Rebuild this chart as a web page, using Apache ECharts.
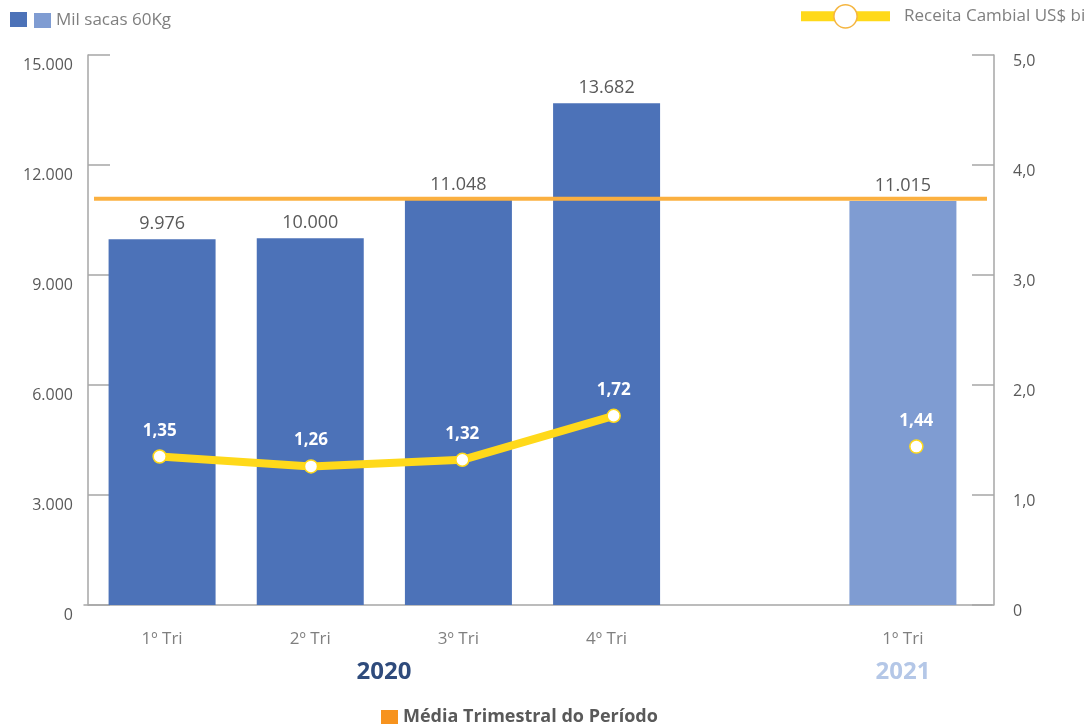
<!DOCTYPE html>
<html><head><meta charset="utf-8">
<script src="https://cdn.jsdelivr.net/npm/echarts@6/dist/echarts.min.js"></script>
<style>html,body{margin:0;padding:0;background:#fff}#c{width:1087px;height:727px}</style>
</head><body><div id="c"></div>
<script>
const categories = ['1º Tri', '2º Tri', '3º Tri', '4º Tri', '', '1º Tri'];
const yearLabels = ['2020', '2021'];
const milSacas = [9976, 10000, 11048, 13682, null, 11015];
const receitaCambial = [1.35, 1.26, 1.32, 1.72, null, 1.44];
const mediaTrimestral = 11080;
const leftAxisTicks = [0, 3000, 6000, 9000, 12000, 15000];
const rightAxisTicks = [0, 1, 2, 3, 4, 5];

const FONT = '"Open Sans", "Noto Sans", sans-serif';
const DARK = '#4C72B8', LIGHT = '#7F9CD2', YELLOW = '#FFD91A', ORANGE = '#FBB040';
const AXIS = '#A6A6A6', TXT = '#595959', LEG = '#7F7F7F';

function fmtThousands(v) { return String(Math.round(v)).replace(/\B(?=(\d{3})+(?!\d))/g, '.'); }
function fmtDec(v, d) { return v.toFixed(d).replace('.', ','); }

const chart = echarts.init(document.getElementById('c'), null, { renderer: 'canvas' });
const gTop = 55, gBottom = 122;
chart.setOption({
  animation: false,
  backgroundColor: '#fff',
  textStyle: { fontFamily: FONT },
  grid: [
    { left: 88, right: 110, top: gTop, bottom: gBottom },
    { left: 84, right: 95, top: gTop, bottom: gBottom },
    { left: 94, right: 100, top: gTop, bottom: gBottom }
  ],
  legend: [
    { data: ['Mil sacas 60Kg'], left: 29, top: 7, icon: 'rect', itemWidth: 17, itemHeight: 15,
      textStyle: { color: LEG, fontSize: 17, fontFamily: FONT } },
    { data: ['Receita Cambial US$ bi'], left: 791, top: -1, itemWidth: 89, itemHeight: 29,
      lineStyle: { color: YELLOW, width: 10 },
      itemStyle: { color: '#fff', borderColor: '#F5B642', borderWidth: 1.5 },
      textStyle: { color: LEG, fontSize: 17, fontFamily: FONT, padding: [0, 0, 0, 9] } },
    { data: ['Média Trimestral do Período'], left: 376, top: 703, icon: 'rect', itemWidth: 17, itemHeight: 14,
      itemStyle: { color: '#F7931E' },
      textStyle: { color: TXT, fontSize: 18, fontWeight: 'bold', fontFamily: FONT } }
  ],
  xAxis: [
    { type: 'category', gridIndex: 0, data: categories, boundaryGap: true,
      axisLine: { show: false }, axisTick: { show: false },
      axisLabel: { interval: 0, color: LEG, fontSize: 17, margin: 26, fontFamily: FONT } },
    { type: 'category', gridIndex: 1, data: categories, boundaryGap: true,
      axisLine: { show: true, lineStyle: { color: AXIS, width: 1.5 } }, axisTick: { show: false },
      axisLabel: { show: false } },
    { type: 'value', gridIndex: 2, min: 0, max: 1, show: false }
  ],
  yAxis: [
    { type: 'value', gridIndex: 0, position: 'left', min: leftAxisTicks[0], max: leftAxisTicks[leftAxisTicks.length - 1],
      interval: leftAxisTicks[1] - leftAxisTicks[0],
      axisLine: { show: true, lineStyle: { color: AXIS, width: 1.5 } },
      axisTick: { show: true, inside: true, length: 22, lineStyle: { color: AXIS, width: 1.5 } },
      splitLine: { show: false },
      axisLabel: { color: TXT, fontSize: 16, margin: 15, fontFamily: FONT, verticalAlign: 'top', lineHeight: 21,
        formatter: v => fmtThousands(v) } },
    { type: 'value', gridIndex: 1, position: 'right', offset: 2, min: rightAxisTicks[0], max: rightAxisTicks[rightAxisTicks.length - 1],
      interval: rightAxisTicks[1] - rightAxisTicks[0],
      axisLine: { show: true, lineStyle: { color: AXIS, width: 1.5 } },
      axisTick: { show: true, inside: true, length: 22, lineStyle: { color: AXIS, width: 1.5 } },
      splitLine: { show: false },
      axisLabel: { color: TXT, fontSize: 16, margin: 19, fontFamily: FONT, verticalAlign: 'top', lineHeight: 12,
        formatter: v => v === 0 ? '0' : fmtDec(v, 1) } },
    { type: 'value', gridIndex: 2, min: leftAxisTicks[0], max: leftAxisTicks[leftAxisTicks.length - 1], show: false }
  ],
  graphic: [
    { type: 'rect', left: 10, top: 12, shape: { width: 17, height: 15 }, style: { fill: DARK } },
    { type: 'text', x: 384, y: 672, style: { text: yearLabels[0], textAlign: 'center', textVerticalAlign: 'middle',
      font: 'bold 24px ' + FONT, fill: '#2F4B7C' } },
    { type: 'text', x: 903, y: 672, style: { text: yearLabels[1], textAlign: 'center', textVerticalAlign: 'middle',
      font: 'bold 24px ' + FONT, fill: '#B4C7E7' } }
  ],
  series: [
    { name: 'Mil sacas 60Kg', type: 'bar', xAxisIndex: 0, yAxisIndex: 0, barWidth: 107, z: 2,
      itemStyle: { color: LIGHT },
      data: milSacas.map((v, i) => ({ value: v, itemStyle: { color: i < 4 ? DARK : LIGHT } })),
      label: { show: true, position: 'top', distance: 6, color: TXT, fontSize: 18, fontFamily: FONT,
        formatter: p => p.value == null ? '' : fmtThousands(p.value) } },
    { name: 'Média Trimestral do Período', type: 'line', xAxisIndex: 2, yAxisIndex: 2, z: 3,
      symbol: 'none', lineStyle: { color: ORANGE, width: 4 }, itemStyle: { color: ORANGE },
      data: [[0, mediaTrimestral], [1, mediaTrimestral]] },
    { name: 'Receita Cambial US$ bi', type: 'line', xAxisIndex: 1, yAxisIndex: 1, z: 5,
      data: receitaCambial, connectNulls: false,
      symbol: 'circle', symbolSize: 13, showSymbol: true, showAllSymbol: true,
      lineStyle: { color: YELLOW, width: 8 },
      itemStyle: { color: '#fff', borderColor: YELLOW, borderWidth: 1.5 },
      label: { show: true, position: 'top', distance: 10, color: '#fff', fontSize: 17, fontWeight: 'bold', fontFamily: FONT,
        formatter: p => p.value == null ? '' : fmtDec(p.value, 2) } }
  ]
});
</script></body></html>
